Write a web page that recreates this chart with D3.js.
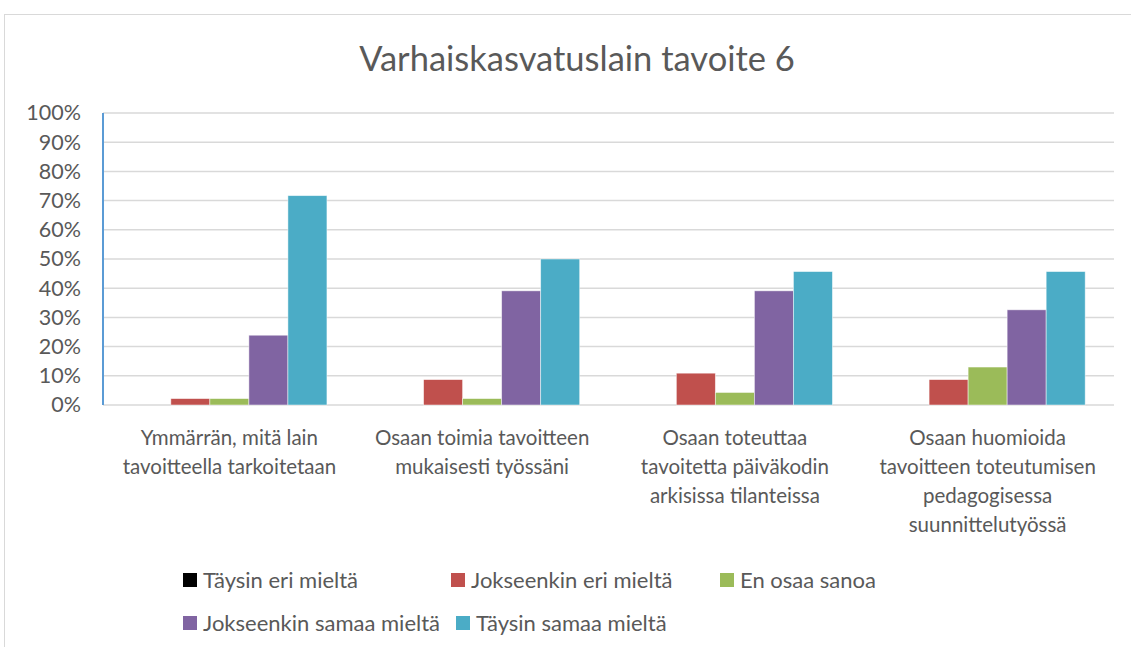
<!DOCTYPE html>
<html>
<head>
<meta charset="utf-8">
<script src="https://cdn.jsdelivr.net/npm/d3@7"></script>
<style>
  body { margin: 0; background: #fff; }
  text { font-family: Lato, "Liberation Sans", sans-serif; fill: #595959; }
</style>
</head>
<body>
<div id="chart"></div>
<script>
const categories = [
    ["Ymmärrän, mitä lain", "tavoitteella tarkoitetaan"],
    ["Osaan toimia tavoitteen", "mukaisesti työssäni"],
    ["Osaan toteuttaa", "tavoitetta päiväkodin", "arkisissa tilanteissa"],
    ["Osaan huomioida", "tavoitteen toteutumisen", "pedagogisessa", "suunnittelutyössä"]
];
const seriesNames = ["Täysin eri mieltä", "Jokseenkin eri mieltä", "En osaa sanoa", "Jokseenkin samaa mieltä", "Täysin samaa mieltä"];
const seriesColors = ["#000000", "#c0504d", "#9bbb59", "#8064a2", "#4bacc6"];

// percent values, one array per series (4 categories each)
const taysinEri = [0, 0, 0, 0];
const jokseenkinEri = [2.2, 8.7, 10.9, 8.7];
const enOsaa = [2.2, 2.2, 4.3, 13.0];
const jokseenkinSamaa = [23.9, 39.1, 39.1, 32.6];
const taysinSamaa = [71.7, 50.0, 45.7, 45.7];
const yTicks = [0, 10, 20, 30, 40, 50, 60, 70, 80, 90, 100];

const allSeries = [taysinEri, jokseenkinEri, enOsaa, jokseenkinSamaa, taysinSamaa];

const W = 1131, H = 647;
const plot = { left: 103, right: 1114, top: 113, bottom: 405 };

const svg = d3.select("#chart").append("svg")
    .attr("width", W)
    .attr("height", H);

// chart frame
svg.append("rect")
    .attr("x", 4.5).attr("y", 14.5)
    .attr("width", W + 10).attr("height", H + 10)
    .attr("fill", "none")
    .attr("stroke", "#d9d9d9")
    .attr("stroke-width", 1);

svg.append("text")
    .attr("x", 577).attr("y", 71)
    .attr("text-anchor", "middle")
    .attr("font-size", 34.5)
    .text("Varhaiskasvatuslain tavoite 6");

const x0 = d3.scaleBand()
    .domain(d3.range(categories.length))
    .range([plot.left, plot.right])
    .paddingInner(0)
    .paddingOuter(0);

const groupW = x0.bandwidth() * 0.772;
const x1 = d3.scaleBand()
    .domain(d3.range(seriesNames.length))
    .range([0, groupW]);

const y = d3.scaleLinear()
    .domain([0, 100])
    .range([plot.bottom, plot.top]);

// gridlines
svg.append("g")
    .selectAll("line")
    .data(yTicks)
    .join("line")
    .attr("x1", plot.left).attr("x2", plot.right)
    .attr("y1", d => y(d)).attr("y2", d => y(d))
    .attr("stroke", "#d9d9d9")
    .attr("stroke-width", 1.5);

// y axis labels
const yAxis = d3.axisLeft(y)
    .tickValues(yTicks)
    .tickFormat(d => d + "%")
    .tickSize(0)
    .tickPadding(22);

svg.append("g")
    .attr("transform", "translate(" + plot.left + ",0)")
    .call(yAxis)
    .call(g => g.select(".domain").remove())
    .selectAll("text")
    .attr("font-size", 21.5)
    .attr("font-family", "Lato, 'Liberation Sans', sans-serif")
    .attr("fill", "#595959");

// bars
svg.append("g")
    .selectAll("g")
    .data(allSeries)
    .join("g")
    .attr("fill", (d, i) => seriesColors[i])
    .selectAll("rect")
    .data((vals, si) => vals.map((v, ci) => ({ v, ci, si })))
    .join("rect")
    .attr("x", d => x0(d.ci) + (x0.bandwidth() - groupW) / 2 + x1(d.si))
    .attr("width", x1.bandwidth())
    .attr("y", d => y(d.v))
    .attr("height", d => y(0) - y(d.v))
    .attr("stroke", "#fff")
    .attr("stroke-opacity", d => d.v > 0 ? 0.6 : 0)
    .attr("stroke-width", 0.8);

// blue vertical axis line
svg.append("line")
    .attr("x1", plot.left).attr("x2", plot.left)
    .attr("y1", plot.top).attr("y2", plot.bottom)
    .attr("stroke", "#5b9bd5")
    .attr("stroke-width", 2);

// category labels
const catG = svg.append("g")
    .selectAll("text")
    .data(categories)
    .join("text")
    .attr("x", (d, i) => x0(i) + x0.bandwidth() / 2)
    .attr("y", 445)
    .attr("text-anchor", "middle")
    .attr("font-size", 20.5);

catG.selectAll("tspan")
    .data(d => d)
    .join("tspan")
    .attr("x", function() { return d3.select(this.parentNode).attr("x"); })
    .attr("dy", (d, i) => i === 0 ? 0 : 29)
    .text(d => d);

// legend
const legendPos = [[183, 580], [451, 580], [720, 580], [183, 623], [456, 623]];
const leg = svg.append("g")
    .selectAll("g")
    .data(seriesNames)
    .join("g")
    .attr("transform", (d, i) => "translate(" + legendPos[i][0] + "," + legendPos[i][1] + ")");

leg.append("rect")
    .attr("x", 0).attr("y", -7)
    .attr("width", 14).attr("height", 14)
    .attr("fill", (d, i) => seriesColors[i]);

leg.append("text")
    .attr("x", 20).attr("y", 7.5)
    .attr("font-size", 22)
    .text(d => d);
</script>
</body>
</html>
